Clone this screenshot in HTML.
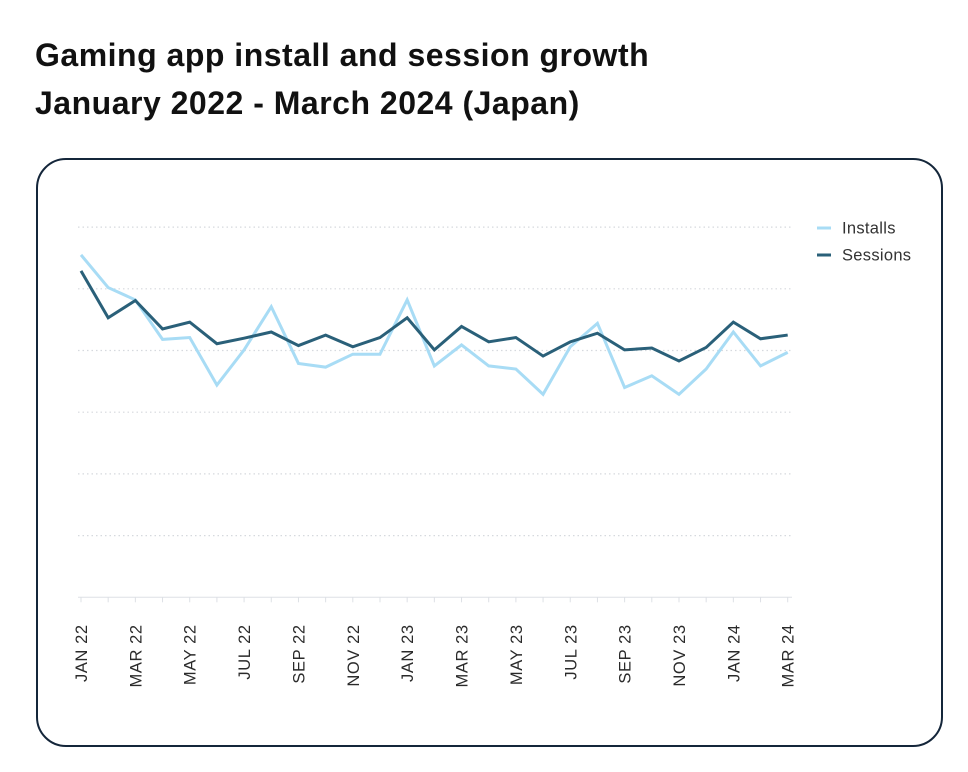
<!DOCTYPE html>
<html><head><meta charset="utf-8"><style>
body{margin:0;background:#fff;width:968px;height:772px;overflow:hidden;font-family:"Liberation Sans",sans-serif}
.title{position:absolute;left:35px;top:31px;font-size:32px;font-weight:bold;line-height:48px;color:#111;letter-spacing:0.5px}
.card{position:absolute;left:36px;top:158px;width:903px;height:585px;border:2px solid #14263a;border-radius:30px}
svg{position:absolute;left:0;top:0}
</style></head><body>
<div class="title">Gaming app install and session growth<br>January 2022 - March 2024 (Japan)</div>
<div class="card"></div>
<svg id="chart" width="968" height="772"></svg>
<script>
const months=["JAN 22","FEB 22","MAR 22","APR 22","MAY 22","JUN 22","JUL 22","AUG 22","SEP 22","OCT 22","NOV 22","DEC 22","JAN 23","FEB 23","MAR 23","APR 23","MAY 23","JUN 23","JUL 23","AUG 23","SEP 23","OCT 23","NOV 23","DEC 23","JAN 24","FEB 24","MAR 24"];
const installs=[55.5,50.2,48.2,41.8,42.1,34.4,40.1,47.1,37.9,37.3,39.4,39.4,48.2,37.5,40.9,37.5,37.0,32.9,40.6,44.4,34.0,35.9,32.9,37.0,43.0,37.5,39.7];
const sessions=[52.9,45.3,48.1,43.5,44.6,41.1,42.0,43.0,40.8,42.5,40.6,42.1,45.3,40.1,43.9,41.4,42.1,39.1,41.4,42.8,40.1,40.4,38.3,40.5,44.6,41.9,42.5];
const yTicks=[0,10,20,30,40,50,60];
const NS="http://www.w3.org/2000/svg";
const svg=document.getElementById('chart');
const x=i=>81+i*(787.7-81)/(months.length-1);
const y=v=>597.3-v*61.7/10;
function mk(t,a){const e=document.createElementNS(NS,t);for(const k in a)e.setAttribute(k,a[k]);svg.appendChild(e);return e;}
yTicks.forEach(v=>{if(v===0)return;const g=mk('line',{x1:78,x2:792,y1:y(v),y2:y(v),stroke:'#d6d9de','stroke-width':1.2,'stroke-dasharray':'1.5 3'});

});
const ax=mk('line',{x1:78,x2:792,y1:y(0),y2:y(0),stroke:'#dde0e5','stroke-width':1});


months.forEach((m,i)=>{const t=mk('line',{x1:x(i),x2:x(i),y1:y(0),y2:y(0)+5,stroke:'#dde0e5','stroke-width':1});


if(i%2===0){const tx=mk('text',{x:0,y:0,transform:`translate(${x(i)+6},${y(0)+27}) rotate(-90)`,'text-anchor':'end','font-size':16.5,'letter-spacing':0.6,fill:'#2a2a2a'});tx.textContent=m;

}});
function line(vals,col,name){const p=mk('polyline',{points:vals.map((v,i)=>x(i)+','+y(v)).join(' '),fill:'none',stroke:col,'stroke-width':3,'stroke-linejoin':'miter'});

}
line(installs,'#a8dcf5','installs-line');
line(sessions,'#2a6079','sessions-line');
[['Installs','#a8dcf5',228],['Sessions','#2a6079',255]].forEach(([n,c,yy])=>{const l=mk('line',{x1:817,x2:831,y1:yy,y2:yy,stroke:c,'stroke-width':3});


const t=mk('text',{x:842,y:yy+5.5,'font-size':16.5,'letter-spacing':0.3,fill:'#333'});t.textContent=n;

});
</script>
</body></html>
